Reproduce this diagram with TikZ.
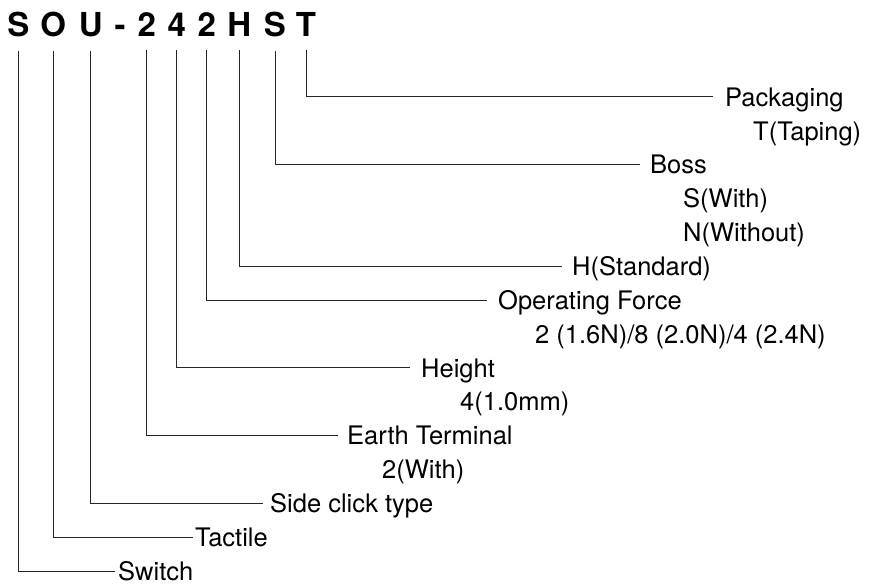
\documentclass[tikz,border=0pt]{standalone}
\usepackage{fontspec}
\setmainfont{TeX Gyre Heros}
\usetikzlibrary{positioning}

\begin{document}
\begin{tikzpicture}[x=1pt,y=-1pt,
  code/.style={font=\fontsize{33}{36}\selectfont\bfseries,anchor=base,inner sep=0pt},
  lbl/.style={font=\fontsize{25.5}{30}\selectfont,anchor=west,inner ysep=0pt,
    inner xsep=0pt,text height=18.4pt,text depth=0pt},
  lead/.style={line width=1pt,black!85}]
\useasboundingbox (0,0) rectangle (869,583);
% part number
\node[code] (cS)  at (18.3,37)  {S};
\node[code] (cO)  at (53.3,37)  {O};
\node[code] (cU)  at (90.7,37)  {U};
\node[code] (dsh) at (120,37)   {-};
\node[code] (c2a) at (146.7,37) {2};
\node[code] (c4)  at (176.7,37) {4};
\node[code] (c2b) at (206.7,37) {2};
\node[code] (cH)  at (239.3,37) {H};
\node[code] (cS2) at (275,37)   {S};
\node[code] (cT)  at (306,37)   {T};
% labels
\node[lbl,inner xsep=12pt] (pk) at (713,97.0)  {Packaging};
\node[lbl] (tp) at (753,130.9) {T(Taping)};
\node[lbl,inner xsep=10pt] (bs) at (640,164.7) {Boss};
\node[lbl] (bw) at (683,198.6) {S(With)};
\node[lbl] (bn) at (683,232.4) {N(Without)};
\node[lbl,inner xsep=10pt] (st) at (562,266.3) {H(Standard)};
\node[lbl,inner xsep=11pt] (of) at (487,300.2) {Operating Force};
\node[lbl] (ofv) at (535,334.0) {2 (1.6N)/8 (2.0N)/4 (2.4N)};
\node[lbl,inner xsep=11pt] (ht) at (410,367.9) {Height};
\node[lbl] (htv) at (460,401.7) {4(1.0mm)};
\node[lbl,inner xsep=9pt] (et) at (338,435.6) {Earth Terminal};
\node[lbl] (etv) at (382,469.5) {2(With)};
\node[lbl,inner xsep=7pt] (sc) at (263,503.3) {Side click type};
\node[lbl,inner xsep=2pt] (tc) at (193,537.2) {Tactile};
\node[lbl,inner xsep=3pt] (sw) at (115,571.0) {Switch};
% leaders
\draw[lead] ([yshift=-13pt]cT.south)  |- (pk.west);
\draw[lead] ([yshift=-13pt]cS2.south) |- (bs.west);
\draw[lead] ([yshift=-13pt]cH.south)  |- (st.west);
\draw[lead] ([yshift=-13pt]c2b.south) |- (of.west);
\draw[lead] ([yshift=-13pt]c4.south)  |- (ht.west);
\draw[lead] ([yshift=-13pt]c2a.south) |- (et.west);
\draw[lead] ([yshift=-13pt]cU.south)  |- (sc.west);
\draw[lead] ([yshift=-13pt]cO.south)  |- (tc.west);
\draw[lead] ([yshift=-13pt]cS.south)  |- (sw.west);
\end{tikzpicture}
\end{document}
